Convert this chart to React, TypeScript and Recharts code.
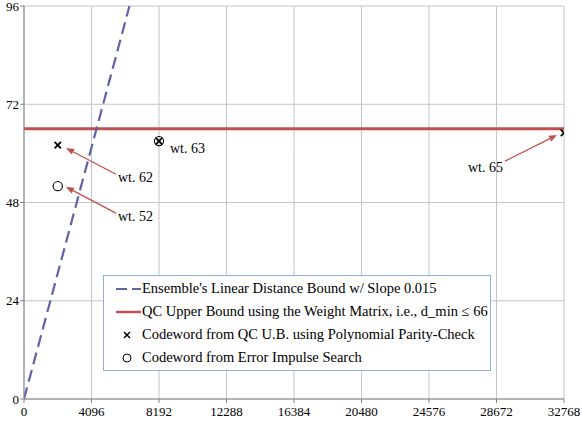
import React from 'react';
import {
  ComposedChart,
  Line,
  Scatter,
  XAxis,
  YAxis,
  CartesianGrid,
  ReferenceLine,
  ReferenceDot,
} from 'recharts';

const X_TICKS = [0, 4096, 8192, 12288, 16384, 20480, 24576, 28672, 32768];
const Y_TICKS = [0, 24, 48, 72, 96];

// slope 0.015 bound, end points only
const ensembleBound = [
  { x: 0, y: 0 },
  { x: 6400, y: 96 },
];
const qcUpperBound = [
  { x: 0, y: 66 },
  { x: 32768, y: 66 },
];
const parityCheckWords = [
  { x: 2048, y: 62 },
  { x: 8192, y: 63 },
  { x: 32768, y: 65 },
];
const impulseSearchWords = [
  { x: 2048, y: 52 },
  { x: 8192, y: 63 },
];

// arrow annotations: tail (near the text) -> head (near the point)
const arrowNotes = [
  { label: 'wt. 62', tail: { x: 5583, y: 54.9 }, head: { x: 2549, y: 61.3 }, anchor: 'start', dx: 2, dy: 8 },
  { label: 'wt. 52', tail: { x: 5583, y: 45.4 }, head: { x: 2549, y: 51.8 }, anchor: 'start', dx: 2, dy: 8 },
  { label: 'wt. 65', tail: { x: 29188, y: 58.1 }, head: { x: 32343, y: 64.5 }, anchor: 'end', dx: -2, dy: 11 },
];
const plainNotes = [{ label: 'wt. 63', x: 8859, y: 61.3 }];

const FONT = 'Liberation Serif';
const RED = '#c0504d';
const BLUE = '#6262a6';

const XMark = (props: any) => {
  const { cx, cy } = props;
  const s = 3.2;
  return (
    <g stroke="#000" strokeWidth={1.8}>
      <line x1={cx - s} y1={cy - s} x2={cx + s} y2={cy + s} />
      <line x1={cx - s} y1={cy + s} x2={cx + s} y2={cy - s} />
    </g>
  );
};

const OMark = (props: any) => {
  const { cx, cy } = props;
  return <circle cx={cx} cy={cy} r={4.6} fill="none" stroke="#000" strokeWidth={1.1} />;
};

function arrowShape(note: (typeof arrowNotes)[number]) {
  return (props: any) => {
    const { x1, y1, x2, y2 } = props;
    const ang = Math.atan2(y2 - y1, x2 - x1);
    const len = 8;
    const w = 3.2;
    const bx = x2 - len * Math.cos(ang);
    const by = y2 - len * Math.sin(ang);
    const px = -Math.sin(ang) * w;
    const py = Math.cos(ang) * w;
    return (
      <g>
        <line x1={x1} y1={y1} x2={bx} y2={by} stroke={RED} strokeWidth={1.3} />
        <polygon points={`${x2},${y2} ${bx + px},${by + py} ${bx - px},${by - py}`} fill={RED} />
        <text
          x={x1 + note.dx}
          y={y1 + note.dy}
          textAnchor={note.anchor}
          fontFamily={FONT}
          fontSize={14}
          fill="#000"
        >
          {note.label}
        </text>
      </g>
    );
  };
}

function LegendBox() {
  const row: React.CSSProperties = { display: 'flex', alignItems: 'center', height: 23, whiteSpace: 'nowrap' };
  const sample: React.CSSProperties = { width: 27, marginRight: 0, display: 'flex', justifyContent: 'center' };
  return (
    <div
      style={{
        position: 'absolute',
        left: 103,
        top: 275,
        width: 388,
        height: 96,
        border: '1px solid #8db0dc',
        background: '#fff',
        fontFamily: FONT,
        fontSize: 14.5,
        color: '#000',
        boxSizing: 'border-box',
        paddingTop: 1,
        paddingLeft: 11,
      }}
    >
      <div style={row}>
        <svg width={27} height={10}>
          <line x1={1} y1={5} x2={26} y2={5} stroke={BLUE} strokeWidth={2} strokeDasharray="11 5" />
        </svg>
        <span>Ensemble's Linear Distance Bound w/ Slope 0.015</span>
      </div>
      <div style={row}>
        <svg width={27} height={10}>
          <line x1={1} y1={5} x2={26} y2={5} stroke={RED} strokeWidth={2.5} />
        </svg>
        <span>QC Upper Bound using the Weight Matrix, i.e., d_min ≤ 66</span>
      </div>
      <div style={row}>
        <div style={sample}>
          <svg width={27} height={10}>
            <g stroke="#000" strokeWidth={1.5}>
              <line x1={9} y1={2} x2={15} y2={8} />
              <line x1={9} y1={8} x2={15} y2={2} />
            </g>
          </svg>
        </div>
        <span>Codeword from QC U.B. using Polynomial Parity-Check</span>
      </div>
      <div style={row}>
        <div style={sample}>
          <svg width={27} height={12}>
            <circle cx={12} cy={6} r={4} fill="none" stroke="#000" strokeWidth={1} />
          </svg>
        </div>
        <span>Codeword from Error Impulse Search</span>
      </div>
    </div>
  );
}

export default function App() {
  const tick = { fontSize: 13, fontFamily: FONT, fill: '#000' };
  return (
    <div style={{ position: 'absolute', left: 0, top: 0, width: 582, height: 422, background: '#fff', fontFamily: FONT }}>
      <ComposedChart width={582} height={422} margin={{ top: 6, right: 18, bottom: 0, left: 0 }}>
        <CartesianGrid stroke="#c4c4c4" strokeWidth={1} />
        <XAxis
          type="number"
          dataKey="x"
          domain={[0, 32768]}
          ticks={X_TICKS}
          interval={0}
          allowDataOverflow
          height={23}
          tick={tick}
          tickSize={4}
          tickMargin={4}
          stroke="#868686"
        />
        <YAxis
          type="number"
          dataKey="y"
          domain={[0, 96]}
          ticks={Y_TICKS}
          interval={0}
          allowDataOverflow
          width={24}
          tick={tick}
          tickSize={4}
          tickMargin={1}
          stroke="#868686"
        />
        <Line
          data={qcUpperBound}
          dataKey="y"
          stroke={RED}
          strokeWidth={3}
          dot={false}
          activeDot={false}
          isAnimationActive={false}
        />
        <Line
          data={ensembleBound}
          dataKey="y"
          stroke={BLUE}
          strokeWidth={2.2}
          strokeDasharray="12 6"
          dot={false}
          activeDot={false}
          isAnimationActive={false}
        />
        <Scatter data={impulseSearchWords} dataKey="y" shape={OMark} isAnimationActive={false} />
        <Scatter data={parityCheckWords} dataKey="y" shape={XMark} isAnimationActive={false} />
        {arrowNotes.map((n) => (
          <ReferenceLine key={n.label} segment={[n.tail, n.head]} shape={arrowShape(n)} ifOverflow="visible" />
        ))}
        {plainNotes.map((n) => (
          <ReferenceDot
            key={n.label}
            x={n.x}
            y={n.y}
            ifOverflow="visible"
            shape={(p: any) => (
              <text x={p.cx} y={p.cy + 5} fontFamily={FONT} fontSize={14} fill="#000">
                {n.label}
              </text>
            )}
          />
        ))}
      </ComposedChart>
      <LegendBox />
    </div>
  );
}
